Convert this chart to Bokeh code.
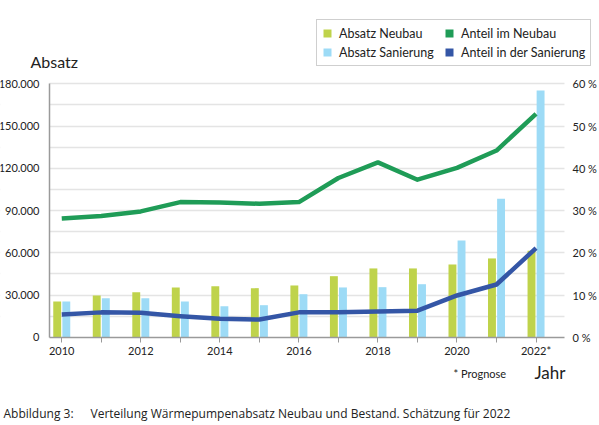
from bokeh.plotting import figure
from bokeh.models import (Range1d, LinearAxis, FixedTicker, SingleIntervalTicker,
                          CustomJSTickFormatter, Legend, LegendItem, Label,
                          ColumnDataSource, BoxAnnotation)
from bokeh.transform import dodge
from bokeh.embed import file_html
from bokeh.resources import INLINE

# ---------------- data ----------------
years = [2010, 2011, 2012, 2013, 2014, 2015, 2016, 2017, 2018, 2019, 2020, 2021, 2022]
absatz_neubau = [25500, 29700, 32000, 35400, 36300, 34900, 36800, 43400, 48900, 48900, 51700, 56000, 61500]
absatz_sanierung = [25500, 27800, 27800, 25400, 22100, 22800, 30600, 35400, 35600, 37700, 68800, 98400, 175300]
anteil_neubau = [28.1, 28.7, 29.8, 32.0, 31.9, 31.6, 32.0, 37.7, 41.4, 37.3, 40.1, 44.2, 52.9]
anteil_sanierung = [5.4, 5.9, 5.8, 5.0, 4.4, 4.2, 5.9, 5.9, 6.1, 6.3, 9.9, 12.5, 21.1]
year_labels = {y: (("2022*" if y == 2022 else str(y)) if y % 2 == 0 else "") for y in years}
series_names = ["Absatz Neubau", "Absatz Sanierung", "Anteil im Neubau", "Anteil in der Sanierung"]

# ---------------- geometry (pixels inside the figure) ----------------
W, H = 599, 425
PL, PR, PT, PB = 49, 564, 83.3, 336.8      # plot area edges
X0, X1 = 2009.69, 2022.72                  # x extent of the plot area
Y0, Y1 = 0, 180000                          # left axis extent
P0, P1 = 0, 60                              # right axis extent (%)

sx = (X1 - X0) / (PR - PL)
sy = (Y1 - Y0) / (PB - PT)
sp = (P1 - P0) / (PB - PT)
x_range = Range1d(X0 - PL * sx, X1 + (W - PR) * sx)
y_range = Range1d(Y0 - (H - PB) * sy, Y1 + PT * sy)
p_range = Range1d(P0 - (H - PB) * sp, P1 + PT * sp)

FONT = "Lato"
TXT = "#222222"
C_NEU = "#bfd34b"
C_SAN = "#9ddbf6"
C_LNEU = "#1f9c57"
C_LSAN = "#3456a6"
AXIS_GRAY = "#9a9a9a"
GRID = "#e4e4e4"

src = ColumnDataSource(dict(year=years, neu=absatz_neubau, san=absatz_sanierung,
                            aneu=anteil_neubau, asan=anteil_sanierung))

p = figure(width=W, height=H, output_backend="svg", toolbar_location=None,
           x_range=x_range, y_range=y_range,
           min_border=0, min_border_left=0, min_border_right=0,
           min_border_top=0, min_border_bottom=0,
           y_axis_location=None, x_axis_location=None)
p.outline_line_color = None
p.background_fill_color = "white"
p.border_fill_color = "white"
p.extra_y_ranges = {"pct": p_range}

# grid (horizontal lines every 15.000, masked outside the plot area)
p.xgrid.visible = False
p.ygrid.ticker = FixedTicker(ticks=list(range(15000, Y1 + 1, 15000)))
p.ygrid.grid_line_color = GRID
p.ygrid.grid_line_width = 1.5
p.add_layout(BoxAnnotation(right=X0, fill_color="white", fill_alpha=1, line_color=None, level="underlay"))
p.add_layout(BoxAnnotation(left=X1, fill_color="white", fill_alpha=1, line_color=None, level="underlay"))

# left axis
yl = LinearAxis(ticker=SingleIntervalTicker(interval=30000), fixed_location=X0, bounds=(Y0, Y1),
                formatter=CustomJSTickFormatter(code="return tick == 0 ? '0' : Math.round(tick/1000) + '.000';"))
yl.axis_line_color = AXIS_GRAY
yl.axis_line_width = 1.5
yl.major_tick_line_color = None
yl.minor_tick_line_color = None
yl.major_tick_out = 0
yl.major_tick_in = 0
yl.major_label_text_font = FONT
yl.major_label_text_font_size = "11px"
yl.major_label_text_color = TXT
yl.major_label_standoff = 6
p.add_layout(yl, "left")

# right axis
yr = LinearAxis(y_range_name="pct", ticker=SingleIntervalTicker(interval=10),
                fixed_location=X1, bounds=(P0, P1),
                formatter=CustomJSTickFormatter(code="return tick.toFixed(0) + ' %';"))
yr.axis_line_color = None
yr.major_tick_line_color = None
yr.minor_tick_line_color = None
yr.major_tick_out = 0
yr.major_tick_in = 0
yr.major_label_text_font = FONT
yr.major_label_text_font_size = "11px"
yr.major_label_text_color = TXT
yr.major_label_standoff = 4
p.add_layout(yr, "right")

# bottom axis
xb = LinearAxis(ticker=FixedTicker(ticks=years), major_label_overrides=year_labels,
                fixed_location=Y0, bounds=(X0, X1))
xb.axis_line_color = AXIS_GRAY
xb.axis_line_width = 1.5
xb.major_tick_line_color = AXIS_GRAY
xb.major_tick_in = 0
xb.major_tick_out = 5
xb.minor_tick_line_color = None
xb.major_label_text_font = FONT
xb.major_label_text_font_size = "11px"
xb.major_label_text_color = TXT
xb.major_label_standoff = 2
p.add_layout(xb, "below")

# bars
r_neu = p.vbar(x=dodge("year", -0.115, range=p.x_range), top="neu", width=0.2,
               source=src, fill_color=C_NEU, line_color=None)
r_san = p.vbar(x=dodge("year", 0.115, range=p.x_range), top="san", width=0.2,
               source=src, fill_color=C_SAN, line_color=None)

# lines
p.line(x="year", y="aneu", source=src, y_range_name="pct", line_color=C_LNEU,
       line_width=4.5, line_join="round")
p.line(x="year", y="asan", source=src, y_range_name="pct", line_color=C_LSAN,
       line_width=4.5, line_join="round")

# legend swatches for the line series (zero-height bars, only used for the square legend keys)
sw_lneu = p.vbar(x="year", top=0, bottom=0, width=0.2, source=src, fill_color=C_LNEU, line_color=None)
sw_lsan = p.vbar(x="year", top=0, bottom=0, width=0.2, source=src, fill_color=C_LSAN, line_color=None)

legend = Legend(items=[
    LegendItem(label=series_names[0], renderers=[r_neu]),
    LegendItem(label=series_names[1], renderers=[r_san]),
    LegendItem(label=series_names[2], renderers=[sw_lneu]),
    LegendItem(label=series_names[3], renderers=[sw_lsan]),
], nrows=2, orientation="vertical", location=(316, H - 66))
legend.label_text_font = FONT
legend.label_text_font_size = "12.5px"
legend.label_text_color = TXT
legend.glyph_width = 10
legend.glyph_height = 10
legend.label_standoff = 7
legend.label_width = 102
legend.label_height = 16
legend.spacing = 3
legend.padding = 5
legend.margin = 0
legend.border_line_color = "#a0a0a0"
legend.border_line_width = 1
legend.background_fill_alpha = 1
p.add_layout(legend, "center")


# texts (canvas pixels, baseline)
def lab(txt, x, y, size, font=FONT):
    p.add_layout(Label(x=x, y=y, x_units="canvas", y_units="canvas", text=txt,
                       text_font=font, text_font_size=size, text_color=TXT,
                       text_baseline="alphabetic"))


lab("Absatz", 30, 60.5, "16px")
lab("Jahr", 534, 372, "17px")
lab("* Prognose", 453, 373, "11px")
lab("Abbildung 3:", 3, 412.5, "12px", font="Open Sans")
lab("Verteilung Wärmepumpenabsatz Neubau und Bestand. Schätzung für 2022", 90, 412.5, "12px", font="Open Sans")

open("out.html", "w").write(file_html(p, INLINE))
